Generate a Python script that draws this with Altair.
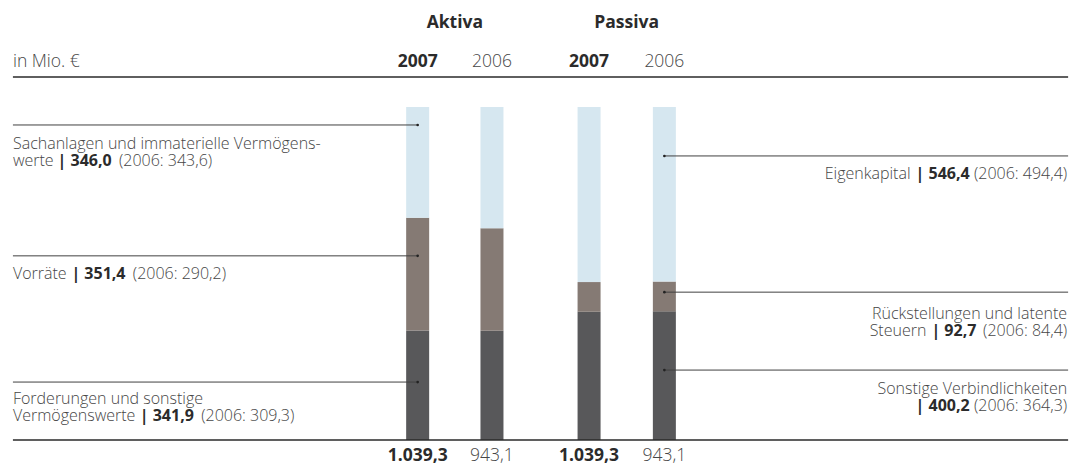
import altair as alt
import pandas as pd

# Bilanzstruktur in Mio. €
groups = ["Aktiva", "Passiva"]
years = ["2007", "2006"]
aktiva_items = ["Forderungen und sonstige Vermögenswerte", "Vorräte",
                "Sachanlagen und immaterielle Vermögenswerte"]
passiva_items = ["Sonstige Verbindlichkeiten", "Rückstellungen und latente Steuern",
                 "Eigenkapital"]
aktiva_2007 = [341.9, 351.4, 346.0]
aktiva_2006 = [309.3, 290.2, 343.6]
passiva_2007 = [400.2, 92.7, 546.4]
passiva_2006 = [364.3, 84.4, 494.4]

# ---- layout / style ----
W, H = 1085, 466
col_x = [416.5, 491.5, 589.5, 665.5]   # centres of the four columns
bar_w = 23
bar_range = [440, 107]                 # bottom / top of the bars in px
left_x, right_x = 8, 1073
shade = ["#58585a", "#857a74", "#d6e7f0"]   # bottom, middle, top segment
FONT = "Open Sans"
TXT = "#464646"
BOLD = "#2b2b2b"
LINE = "#404040"
fs_lab, fs_head = 16, 17.5


def de(v):
    s = f"{v:,.1f}"
    return s.replace(",", "X").replace(".", ",").replace("X", ".")


# ---- bar data ----
series = [(aktiva_2007, aktiva_items), (aktiva_2006, aktiva_items),
          (passiva_2007, passiva_items), (passiva_2006, passiva_items)]
rows = []
for i, (vals, items) in enumerate(series):
    for rank, (item, v) in enumerate(zip(items, vals)):
        rows.append({"col": i, "cx": col_x[i], "item": item, "rank": rank,
                     "shade": shade[rank], "value": v})
bars_df = pd.DataFrame(rows)

X = alt.Scale(domain=[0, W], range=[0, W])
Y_BAR = alt.Scale(domain=[0, 1], range=bar_range)
PIX = alt.Scale(domain=[0, H], range=[0, H])

bars = alt.Chart(bars_df).mark_bar(width=bar_w).encode(
    x=alt.X("cx:Q", scale=X, axis=None),
    y=alt.Y("value:Q", stack="normalize", scale=Y_BAR, axis=None),
    color=alt.Color("shade:N", scale=None, legend=None),
    order=alt.Order("rank:Q"),
)

# ---- leader lines (anchor heights as share of the bar) ----
leaders = pd.DataFrame([
    {"x0": left_x, "x1": col_x[0], "f": 0.946},
    {"x0": left_x, "x1": col_x[0], "f": 0.553},
    {"x0": left_x, "x1": col_x[0], "f": 0.174},
    {"x0": col_x[3], "x1": right_x, "f": 0.853},
    {"x0": col_x[3], "x1": right_x, "f": 0.444},
    {"x0": col_x[3], "x1": right_x, "f": 0.210},
])
leaders["dot"] = [r.x1 if r.x0 == left_x else r.x0 for r in leaders.itertuples()]

lead_lines = alt.Chart(leaders).mark_rule(color=LINE, strokeWidth=1).encode(
    x=alt.X("x0:Q", scale=X, axis=None), x2="x1:Q",
    y=alt.Y("f:Q", scale=Y_BAR, axis=None),
)
lead_dots = alt.Chart(leaders).mark_circle(color="#222222", size=7, opacity=1).encode(
    x=alt.X("dot:Q", scale=X, axis=None),
    y=alt.Y("f:Q", scale=Y_BAR, axis=None),
)

# horizontal rules: header line and base line
rules_df = pd.DataFrame({"x0": [left_x, left_x], "x1": [right_x, right_x], "py": [77, 440]})
rules = alt.Chart(rules_df).mark_rule(color="#2a2a2a", strokeWidth=1.6).encode(
    x=alt.X("x0:Q", scale=X, axis=None), x2="x1:Q",
    y=alt.Y("py:Q", scale=PIX, axis=None),
)

# ---- text ----
T = []


def seg(px, py, text, bold=False, align="left", size=fs_lab):
    T.append({"px": px, "py": py, "text": text, "w": "bold" if bold else "light",
              "align": align, "fs": size, "c": BOLD if bold else TXT})


# header
seg(left_x, 67, "in Mio. €", size=fs_head)
seg((col_x[0] + col_x[1]) / 2, 28, groups[0], bold=True, align="center", size=fs_head)
seg((col_x[2] + col_x[3]) / 2, 28, groups[1], bold=True, align="center", size=fs_head)
for i in range(4):
    seg(col_x[i], 67, years[i % 2], bold=(i % 2 == 0), align="center", size=fs_head)

# totals under the bars
for i, (vals, _) in enumerate(series):
    seg(col_x[i], 461, de(sum(vals)), bold=(i % 2 == 0), align="center", size=fs_head)

# left labels (Aktiva)
seg(left_x, 149, "Sachanlagen und immaterielle Vermögens-")
seg(left_x, 166, "werte")
seg(53, 166, "| " + de(aktiva_2007[2]), bold=True)
seg(115, 166, f"(2006: {de(aktiva_2006[2])})")

seg(left_x, 279, "Vorräte")
seg(67, 279, "| " + de(aktiva_2007[1]), bold=True)
seg(129, 279, f"(2006: {de(aktiva_2006[1])})")

seg(left_x, 404, "Forderungen und sonstige")
seg(left_x, 421, "Vermögenswerte")
seg(136, 421, "| " + de(aktiva_2007[0]), bold=True)
seg(198, 421, f"(2006: {de(aktiva_2006[0])})")

# right labels (Passiva)
rx = 1072
seg(914, 179, "Eigenkapital", align="right")
seg(919, 179, "| " + de(passiva_2007[2]), bold=True)
seg(rx, 179, f"(2006: {de(passiva_2006[2])})", align="right")

seg(rx, 319, "Rückstellungen und latente", align="right")
seg(930, 336, "Steuern", align="right")
seg(935, 336, "| " + de(passiva_2007[1]), bold=True)
seg(rx, 336, f"(2006: {de(passiva_2006[1])})", align="right")

seg(rx, 394, "Sonstige Verbindlichkeiten", align="right")
seg(919, 411, "| " + de(passiva_2007[0]), bold=True)
seg(rx, 411, f"(2006: {de(passiva_2006[0])})", align="right")

text_df = pd.DataFrame(T)
text_layers = []
for (w, a), sub in text_df.groupby(["w", "align"]):
    text_layers.append(
        alt.Chart(sub).mark_text(
            font=FONT, fontWeight=700 if w == "bold" else 300,
            align=a, baseline="alphabetic",
        ).encode(
            x=alt.X("px:Q", scale=X, axis=None),
            y=alt.Y("py:Q", scale=PIX, axis=None),
            text="text:N",
            size=alt.Size("fs:Q", scale=None, legend=None),
            color=alt.Color("c:N", scale=None, legend=None),
        )
    )

chart = alt.layer(bars, lead_lines, lead_dots, rules, *text_layers).resolve_scale(
    y="independent"
).properties(
    width=W, height=H, padding=0,
    autosize=alt.AutoSizeParams(type="none"),
).configure_view(stroke=None)

chart.save("out.html", embed_options={"renderer": "svg", "actions": False})
